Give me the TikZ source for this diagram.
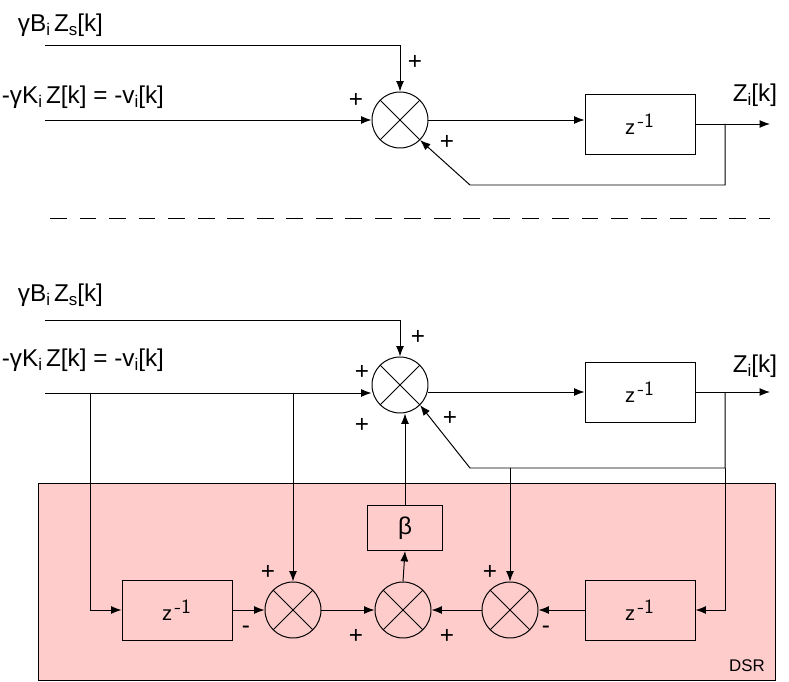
\documentclass[tikz,border=0pt]{standalone}
\usepackage{fontspec}
\setmainfont{Liberation Sans}
\usetikzlibrary{arrows.meta}
\tikzset{sumnode/.style={circle,draw,minimum size=56*0.025cm,inner sep=0pt,path picture={
    \draw (path picture bounding box.north west)--(path picture bounding box.south east)
          (path picture bounding box.north east)--(path picture bounding box.south west);}},
  delaybox/.style={draw,minimum width=110*0.025cm,minimum height=60*0.025cm,font=\Large},
  sig/.style={-{Latex[length=2.6mm,width=2mm]}},
  lbl/.style={font=\LARGE,inner sep=1pt}
}
\newcommand{\subtx}[1]{\raisebox{-0.35ex}{\large #1}}
\begin{document}
\begin{tikzpicture}[x=0.025cm,y=-0.025cm,line width=0.7pt]
\useasboundingbox (0,0) rectangle (789,682);
% top loop
\node[lbl,anchor=west] (g1) at (16,25) {γB\subtx{i}\,Z\subtx{s}[k]};
\node[lbl,anchor=west] (v1) at (0,97) {-γK\subtx{i}\,Z[k] = -v\subtx{i}[k]};
\node[sumnode] (s1) at (400,120) {};
\node[delaybox] (d1) at (640,124) {z$^{\,\textsf{-1}}$};
\coordinate (a1) at (45,45);
\coordinate (b1) at (45,120);
\coordinate (o1) at (770,124);
\coordinate (t1) at (725,124);
\draw[sig] (a1) -| (s1.north);
\draw[sig] (b1) -- (s1.west);
\draw[sig] (s1.east) -- (s1.east -| d1.west);
\draw[sig] (d1.east) -- (o1);
\draw[sig] (t1) -- (725,185) -- (470,185) -- (s1.south east);
\node[lbl] at (415,62) {+};
\node[lbl] at (356,100) {+};
\node[lbl] at (447,142) {+};
\node[lbl] (z1) at (755,95) {Z\subtx{i}[k]};
\draw[dashed,dash pattern=on 12pt off 9pt] (50,218) -- (770,218);
% bottom loop with DSR
\fill[red!20] (38,483) rectangle (775,680);
\draw (38,483) rectangle (775,680);
\node[anchor=south east,font=\large] (dsr) at (770,677) {DSR};
\node[lbl,anchor=west] (g2) at (16,295) {γB\subtx{i}\,Z\subtx{s}[k]};
\node[lbl,anchor=west] (v2) at (0,360) {-γK\subtx{i}\,Z[k] = -v\subtx{i}[k]};
\node[sumnode] (s2) at (400,385) {};
\node[delaybox] (d2) at (640,392) {z$^{\,\textsf{-1}}$};
\node[draw,minimum width=75*0.025cm,minimum height=45*0.025cm,font=\LARGE] (beta) at (405,528) {β};
\node[sumnode] (sl) at (293,610) {};
\node[sumnode] (sm) at (403,610) {};
\node[sumnode] (sr) at (510,610) {};
\node[delaybox] (dl) at (177,610) {z$^{\,\textsf{-1}}$};
\node[delaybox] (dr) at (640,610) {z$^{\,\textsf{-1}}$};
\coordinate (a2) at (45,320);
\coordinate (b2) at (45,393);
\coordinate (o2) at (770,392);
\coordinate (t2) at (725,392);
\coordinate (f2) at (725,468);
\coordinate (p2) at (510,468);
\draw[sig] (a2) -| (s2.north);
\draw[sig] (b2) -- (b2 -| s2.west);
\draw[sig] (s2.east |- d2) -- (d2.west);
\draw[sig] (d2.east) -- (o2);
\draw[sig] (t2) -- (f2) -- (470,468) -- (s2.south east);
\draw[sig] (f2) |- (dr.east);
\draw[sig] (p2) -- (sr.north);
\draw[sig] (90,393) |- (dl.west);
\draw[sig] (293,393) -- (sl.north);
\draw[sig] (dl.east) -- (sl.west);
\draw[sig] (sl.east) -- (sm.west);
\draw[sig] (sr.west) -- (sm.east);
\draw[sig] (dr.west) -- (sr.east);
\draw[sig] (sm.north) -- (beta.south);
\draw[sig] (beta.north) -- (s2.south -| beta.north);
\node[lbl] at (418,337) {+};
\node[lbl] at (362,372) {+};
\node[lbl] at (362,425) {+};
\node[lbl] at (450,418) {+};
\node[lbl] (z2) at (755,366) {Z\subtx{i}[k]};
\node[lbl] at (268,572) {+};
\node[lbl] at (246,630) {-};
\node[lbl] at (356,636) {+};
\node[lbl] at (447,636) {+};
\node[lbl] at (490,572) {+};
\node[lbl] at (546,630) {-};
\end{tikzpicture}
\end{document}
